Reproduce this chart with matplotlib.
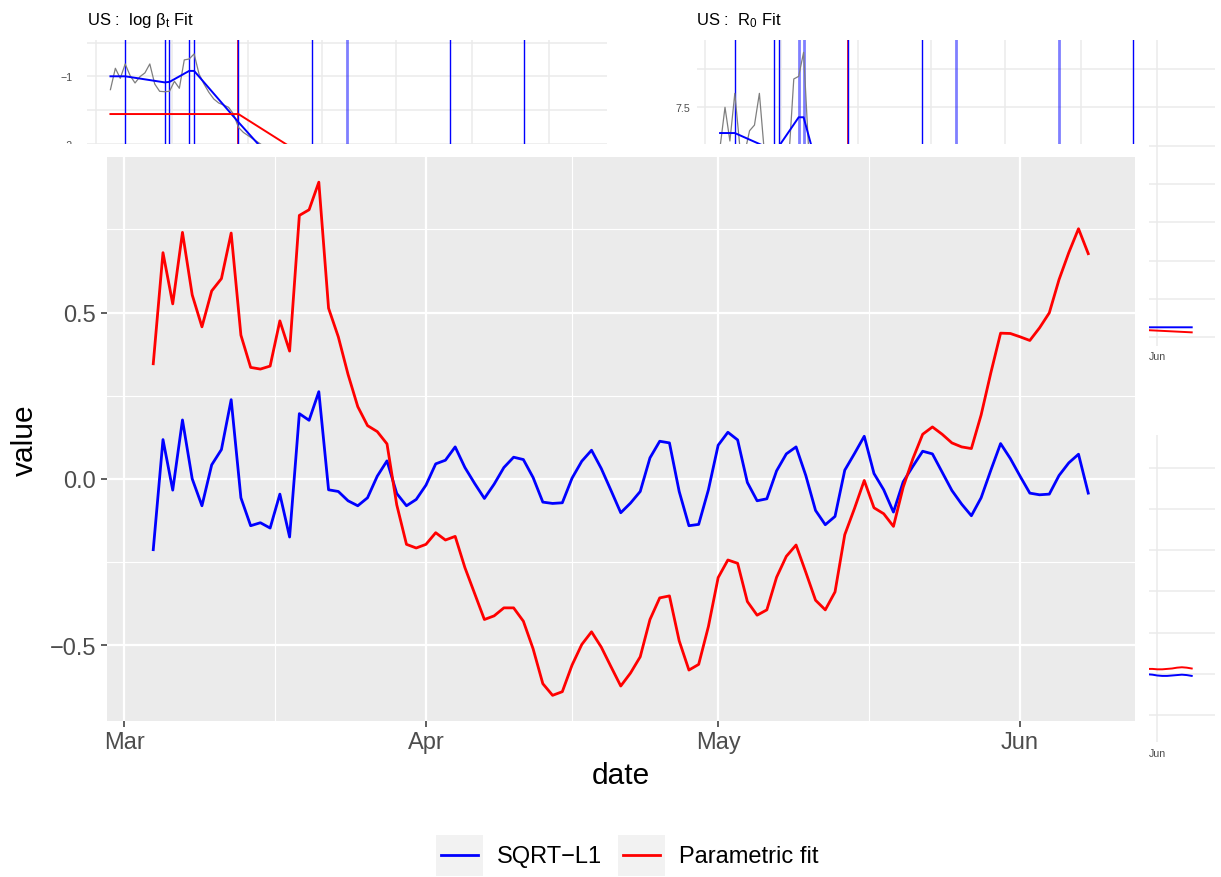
import numpy as np
import pandas as pd
import matplotlib
matplotlib.use("Agg")
import matplotlib.pyplot as plt
import matplotlib.dates as mdates
from matplotlib.patches import Rectangle

plt.rcParams['font.family'] = ['Liberation Sans', 'DejaVu Sans']
plt.rcParams['mathtext.fontset'] = 'custom'
plt.rcParams['mathtext.rm'] = 'Liberation Sans'
plt.rcParams['mathtext.it'] = 'Liberation Sans'
plt.rcParams['mathtext.default'] = 'regular'

W, H, DPI = 1221, 878, 100

# ---- main panel: one value per day ----
dates = pd.date_range("2020-03-04", "2020-06-08")

sqrt_l1 = [-0.213, 0.118, -0.034, 0.177, 0.000, -0.081, 0.042, 0.088, 0.238, -0.057,
           -0.141, -0.132, -0.148, -0.046, -0.175, 0.196, 0.176, 0.262, -0.033, -0.038,
           -0.066, -0.081, -0.057, 0.008, 0.054, -0.044, -0.081, -0.062, -0.019, 0.045,
           0.056, 0.096, 0.034, -0.014, -0.059, -0.016, 0.034, 0.065, 0.058, 0.004,
           -0.070, -0.074, -0.072, 0.002, 0.053, 0.086, 0.031, -0.035, -0.102, -0.073,
           -0.038, 0.063, 0.113, 0.108, -0.038, -0.141, -0.137, -0.033, 0.101, 0.140,
           0.117, -0.011, -0.066, -0.060, 0.024, 0.075, 0.096, 0.010, -0.095, -0.138,
           -0.113, 0.026, 0.076, 0.128, 0.016, -0.033, -0.100, -0.009, 0.038, 0.083,
           0.075, 0.020, -0.035, -0.076, -0.111, -0.057, 0.026, 0.106, 0.061, 0.008,
           -0.043, -0.048, -0.046, 0.010, 0.048, 0.074, -0.043]

parametric = [0.346, 0.680, 0.526, 0.741, 0.553, 0.457, 0.565, 0.602, 0.739, 0.432,
              0.335, 0.330, 0.339, 0.475, 0.384, 0.792, 0.809, 0.892, 0.513, 0.427,
              0.314, 0.217, 0.160, 0.142, 0.105, -0.078, -0.197, -0.208, -0.197, -0.162,
              -0.184, -0.173, -0.267, -0.345, -0.423, -0.412, -0.388, -0.388, -0.428, -0.511,
              -0.616, -0.651, -0.640, -0.560, -0.498, -0.460, -0.506, -0.565, -0.623, -0.584,
              -0.535, -0.423, -0.358, -0.352, -0.487, -0.575, -0.558, -0.444, -0.297, -0.244,
              -0.254, -0.369, -0.410, -0.394, -0.296, -0.233, -0.199, -0.281, -0.365, -0.394,
              -0.340, -0.168, -0.089, -0.005, -0.087, -0.105, -0.143, -0.025, 0.061, 0.134,
              0.156, 0.134, 0.108, 0.096, 0.091, 0.192, 0.319, 0.438, 0.437, 0.427,
              0.416, 0.454, 0.499, 0.599, 0.680, 0.752, 0.677]

# ---- log beta_t fit ----
obs_dates = pd.date_range("2020-03-04", periods=32)
log_beta_obs = [-1.198, -0.881, -1.030, -0.817, -0.990, -1.099, -1.005, -0.950, -0.817, -1.114,
                -1.223, -1.228, -1.223, -1.074, -1.178, -0.757, -0.743, -0.668, -0.965, -1.114,
                -1.238, -1.337, -1.396, -1.426, -1.460, -1.559, -1.757, -1.832, -1.881, -1.931,
                -1.980, -2.030]
beta_fit_dates = pd.to_datetime(["2020-03-04", "2020-03-07", "2020-03-15", "2020-03-16",
                                 "2020-03-20", "2020-03-21", "2020-03-30", "2020-04-14"])
log_beta_sqrt = [-1.00, -1.00, -1.09, -1.083, -0.92, -0.92, -1.68, -2.90]
param_fit_dates = pd.to_datetime(["2020-03-04", "2020-03-30", "2020-04-20"])
log_beta_param = [-1.56, -1.56, -2.53]

changepoints = pd.to_datetime(["2020-03-07", "2020-03-15", "2020-03-16", "2020-03-20",
                               "2020-03-21", "2020-03-30", "2020-04-14", "2020-04-21",
                               "2020-05-12", "2020-05-27"])
param_change = pd.to_datetime(["2020-03-30"])
faded_beta = pd.to_datetime(["2020-04-21"])
faded_r0 = pd.to_datetime(["2020-03-20", "2020-03-21", "2020-04-21", "2020-05-12"])

# ---- R0 fit ----
r0_dates = pd.date_range("2020-03-04", periods=23)
r0_obs = [4.9, 7.5, 5.3, 8.41, 5.0, 4.5, 5.97, 6.34, 8.41, 4.6,
          3.9, 3.9, 3.9, 4.8, 4.2, 9.35, 9.52, 11.09, 4.9, 4.0,
          3.5, 3.0, 2.8]
r0_fit_dates = pd.to_datetime(["2020-03-04", "2020-03-07", "2020-03-15", "2020-03-16",
                               "2020-03-20", "2020-03-21", "2020-03-23", "2020-03-30",
                               "2020-05-29", "2020-06-08"])
r0_sqrt = [5.82, 5.82, 4.68, 4.97, 6.85, 6.85, 4.5, 3.0, -6.86, -6.86]
r0_param_dates = pd.to_datetime(["2020-05-29", "2020-06-08"])
r0_param = [-7.03, -7.19]

# ---- lower-right plot, last days ----
tail_dates = pd.date_range("2020-05-29", "2020-06-08")
tail_sqrt = [1.00, 0.99, 0.98, 0.96, 0.95, 0.95, 0.96, 0.97, 0.98, 0.97, 0.95]
tail_param = [1.12, 1.12, 1.12, 1.11, 1.11, 1.12, 1.13, 1.15, 1.16, 1.15, 1.13]

series_names = ["SQRT\u2212L1", "Parametric fit"]
series_colors = ["#0000FF", "#FF0000"]
month_labels = ["Mar", "Apr", "May", "Jun"]


def dnum(d):
    return mdates.date2num(pd.to_datetime(d).to_numpy())


def px_box(x0, y0, x1, y1):
    return [x0 / W, 1 - y1 / H, (x1 - x0) / W, (y1 - y0) / H]


month_starts = dnum(["2020-03-01", "2020-04-01", "2020-05-01", "2020-06-01"])
month_mids = (month_starts[:-1] + month_starts[1:]) / 2
x = dnum(dates)
span = x[-1] - x[0]
xlim_main = (x[0] - 0.05 * span, x[-1] + 0.05 * span)
GRID = "#EBEBEB"


def minimal(ax, ypad, xlabels):
    # theme_minimal look: no background, light grid, no tick marks
    ax.set_facecolor("none")
    for s in ax.spines.values():
        s.set_visible(False)
    ax.set_xlim(xlim_main)
    ax.set_xticks(month_starts)
    ax.set_xticklabels(xlabels)
    ax.set_xticks(month_mids, minor=True)
    ax.tick_params(which="both", length=0, labelsize=7.7, labelcolor="#4D4D4D")
    ax.tick_params(axis="x", pad=4)
    ax.tick_params(axis="y", pad=ypad)
    ax.grid(which="both", color=GRID, lw=1.1)


def changepoint_lines(ax, faded):
    for cp in dnum(param_change):
        ax.axvline(cp, color="#FF0000", lw=1.2)
    for d, cp in zip(changepoints, dnum(changepoints)):
        if d in faded:
            ax.axvline(cp, color="#0000FF", lw=2.0, alpha=0.5)
        else:
            ax.axvline(cp, color="#0000FF", lw=1.0)


fig = plt.figure(figsize=(W / DPI, H / DPI), dpi=DPI)

# log beta_t fit (top left)
ax1 = fig.add_axes(px_box(86.8, 40.7, 606.6, 346.7), zorder=0)
minimal(ax1, 10, ["", "", "", ""])
ax1.set_ylim(-1 - (346.7 - 77.3) / 67.4, -1 + (77.3 - 40.7) / 67.4)
ax1.set_yticks([-1, -2, -3, -4])
ax1.set_yticklabels(["\u22121", "\u22122", "", ""])
ax1.set_yticks([-0.5, -1.5, -2.5, -3.5, -4.5], minor=True)
changepoint_lines(ax1, faded_beta)
ax1.plot(dnum(obs_dates), log_beta_obs, color="#7F7F7F", lw=0.9)
ax1.plot(dnum(beta_fit_dates), log_beta_sqrt, color="#0000FF", lw=1.4)
ax1.plot(dnum(param_fit_dates), log_beta_param, color="#FF0000", lw=1.4)
fig.text(87 / W, 1 - 20.5 / H, r"US :  log $\beta_t$ Fit", fontsize=12, va="center", ha="left")

# R0 fit (top right)
ax2 = fig.add_axes(px_box(696.5, 40.7, 1215.3, 346.7), zorder=0)
minimal(ax2, 4.5, ["", "", "", "Jun"])
ax2.set_ylim(7.5 - (346.7 - 108.3) / 15.32, 7.5 + (108.3 - 40.7) / 15.32)
ax2.set_yticks([-7.5, -2.5, 2.5, 7.5])
ax2.set_yticklabels(["", "", "", "7.5"])
ax2.set_yticks([-5, 0, 5, 10], minor=True)
changepoint_lines(ax2, faded_r0)
ax2.plot(dnum(r0_dates), r0_obs, color="#7F7F7F", lw=0.9)
ax2.plot(dnum(r0_param_dates), r0_param, color="#FF0000", lw=1.4)
ax2.plot(dnum(r0_fit_dates), r0_sqrt, color="#0000FF", lw=1.4)
fig.text(696.5 / W, 1 - 20.5 / H, r"US :  $R_0$ Fit", fontsize=12, va="center", ha="left")

# lower right plot
ax3 = fig.add_axes(px_box(696.5, 436, 1215.3, 743), zorder=0)
minimal(ax3, 4.5, ["", "", "", "Jun"])
ax3.set_ylim(-0.655, 6.8)
ax3.set_yticks(range(0, 7))
ax3.set_yticklabels([])
ax3.plot(dnum(tail_dates), tail_param, color="#FF0000", lw=1.4)
ax3.plot(dnum(tail_dates), tail_sqrt, color="#0000FF", lw=1.4)

# white background of the main plot
fig.add_artist(Rectangle((0, 0), 1149 / W, 1 - 145 / H, transform=fig.transFigure,
                         facecolor="white", edgecolor="none", zorder=1))

# main panel
ax = fig.add_axes(px_box(106.5, 157.5, 1135, 722), zorder=2)
ax.set_facecolor("#EBEBEB")
for s in ax.spines.values():
    s.set_visible(False)
ax.plot(x, sqrt_l1, color=series_colors[0], lw=2.0, zorder=3)
ax.plot(x, parametric, color=series_colors[1], lw=2.0, zorder=3)
allv = np.array(sqrt_l1 + parametric)
vspan = allv.max() - allv.min()
ax.set_xlim(xlim_main)
ax.set_ylim(allv.min() - 0.05 * vspan, allv.max() + 0.05 * vspan)
ax.set_xticks(month_starts)
ax.set_xticklabels(month_labels)
ax.set_xticks(month_mids, minor=True)
ax.set_yticks([-0.5, 0.0, 0.5])
ax.set_yticklabels(["\u22120.5", "0.0", "0.5"])
ax.set_yticks([-0.25, 0.25, 0.75], minor=True)
ax.set_axisbelow(True)
ax.grid(which="major", color="white", lw=1.6)
ax.grid(which="minor", color="white", lw=0.8)
ax.tick_params(which="major", length=4.3, width=1.1, color="#333333",
               labelsize=17, labelcolor="#4D4D4D", pad=3)
ax.tick_params(which="minor", length=0)
ax.set_xlabel("date", fontsize=21.5, labelpad=6)
ax.set_ylabel("value", fontsize=21.5, labelpad=8)

# legend drawn in pixel space
lg = fig.add_axes([0, 0, 1, 1], zorder=3)
lg.set_xlim(0, W)
lg.set_ylim(H, 0)
lg.axis("off")
for name, col, kx in zip(series_names, series_colors, [436, 618]):
    lg.add_patch(Rectangle((kx, 836), 47, 41, facecolor="#F2F2F2", edgecolor="none"))
    lg.plot([kx + 5, kx + 42], [856.5, 856.5], color=col, lw=2.0)
    lg.text(kx + 61, 857, name, fontsize=17, va="center", ha="left")

fig.savefig("out.png", dpi=DPI)
